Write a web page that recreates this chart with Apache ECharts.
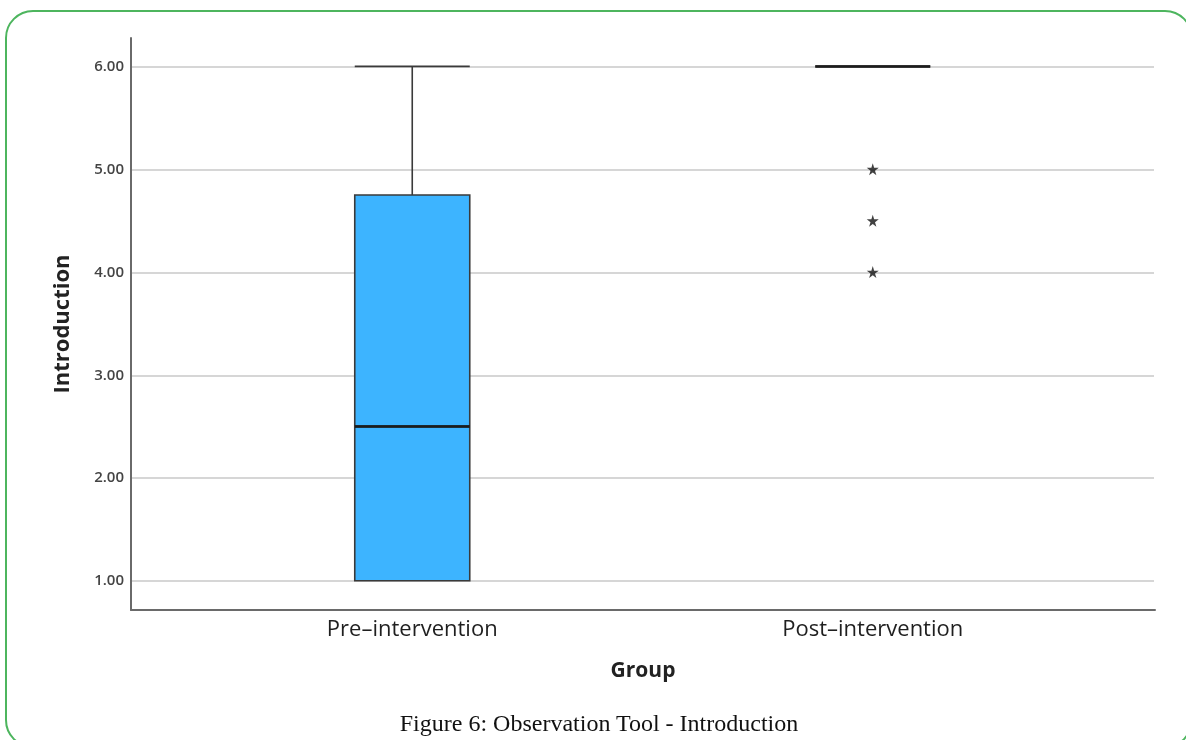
<!DOCTYPE html>
<html>
<head>
<meta charset="utf-8">
<script src="https://cdn.jsdelivr.net/npm/echarts@6/dist/echarts.min.js"></script>
<style>
  html, body { margin: 0; padding: 0; background: #fff; overflow: hidden; }
  #frame { position: absolute; left: 5px; top: 10px; width: 1188px; height: 738px;
           border: 2.5px solid #4db55e; border-radius: 28px; box-sizing: border-box; }
  #chart { position: absolute; left: 0; top: 0; width: 1186px; height: 740px; }
  #caption { position: absolute; left: 0; width: 1198px; top: 710px; text-align: center;
             font-family: "Liberation Serif", "Times New Roman", serif; font-size: 24px; color: #111; }
</style>
</head>
<body>
<div id="frame"></div>
<div id="chart"></div>
<div id="caption">Figure 6: Observation Tool - Introduction</div>
<script>
// ---- data ----
const categories = ['Pre\u2013intervention', 'Post\u2013intervention'];
// [min, Q1, median, Q3, max]
const boxValues = [
  [1, 1, 2.5, 4.75, 6],
  [6, 6, 6, 6, 6]
];
// extreme outliers (category index, value)
const outlierPoints = [
  [1, 5],
  [1, 4.5],
  [1, 4]
];
const yTicks = [1, 2, 3, 4, 5, 6];

const medianPoints = boxValues.map((b, i) => [i, b[2]]);
const star = 'path://M50,0 L61,35 L98,35 L68,57 L79,91 L50,70 L21,91 L32,57 L2,35 L39,35 Z';
const yMin = 0.715, yMax = 6.276;

const chart = echarts.init(document.getElementById('chart'), null, { renderer: 'canvas' });
chart.setOption({
  animation: false,
  grid: [
    { left: 131, right: 31, top: 38, bottom: 130 },   // axis frame
    { left: 131, right: 32, top: 67, bottom: 159 },   // gridlines 1..6
    { left: 182, right: 83, top: 38, bottom: 130 }    // data
  ],
  xAxis: [
    { gridIndex: 0, type: 'value', min: 0, max: 1,
      axisLine: { show: true, lineStyle: { color: '#6a6a6a', width: 2 } },
      axisTick: { show: false }, axisLabel: { show: false }, splitLine: { show: false },
      name: 'Group', nameLocation: 'middle', nameGap: 51,
      nameTextStyle: { fontFamily: 'Open Sans', fontWeight: 'bold', fontSize: 21, color: '#222' } },
    { gridIndex: 1, type: 'value', min: 0, max: 1, show: false },
    { gridIndex: 2, type: 'category', data: categories,
      axisLine: { show: false }, axisTick: { show: false },
      axisLabel: { margin: 9, fontFamily: 'Open Sans', fontSize: 22, color: '#1f1f1f' } }
  ],
  yAxis: [
    { gridIndex: 0, type: 'value', min: yMin, max: yMax,
      axisLine: { show: true, lineStyle: { color: '#6a6a6a', width: 2 } },
      axisTick: { show: false }, axisLabel: { show: false }, splitLine: { show: false },
      name: 'Introduction', nameLocation: 'middle', nameGap: 57, nameRotate: 90,
      nameTextStyle: { fontFamily: 'Open Sans', fontWeight: 'bold', fontSize: 22, color: '#222' } },
    { gridIndex: 1, type: 'value', min: yTicks[0], max: yTicks[yTicks.length - 1], interval: 1,
      axisLine: { show: false }, axisTick: { show: false },
      axisLabel: { margin: 7, fontFamily: 'Open Sans', fontWeight: 600, fontSize: 15, color: '#444',
                   formatter: v => v.toFixed(2) },
      splitLine: { show: true, lineStyle: { color: '#d6d6d6', width: 2 } } },
    { gridIndex: 2, type: 'value', min: yMin, max: yMax, show: false }
  ],
  series: [
    { type: 'boxplot', xAxisIndex: 2, yAxisIndex: 2, data: boxValues,
      boxWidth: [115, 115],
      itemStyle: { color: '#3db4ff', borderColor: '#3a3a3a', borderWidth: 1.6 } },
    { type: 'scatter', xAxisIndex: 2, yAxisIndex: 2, data: medianPoints,
      symbol: 'rect', symbolSize: [115, 3], itemStyle: { color: '#151515' } },
    { type: 'scatter', xAxisIndex: 2, yAxisIndex: 2, data: outlierPoints,
      symbol: star, symbolSize: 12, itemStyle: { color: '#111' } }
  ]
});
</script>
</body>
</html>
